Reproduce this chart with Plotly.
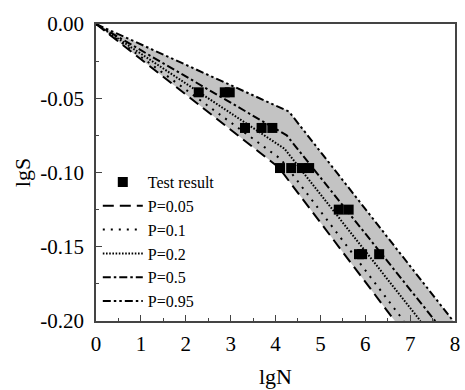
import plotly.graph_objects as go

# Test result data (lgN, lgS)
test_lgN = [2.29, 2.87, 2.98, 3.32, 3.69, 3.93, 4.10, 4.35, 4.59, 4.75, 5.41, 5.63, 5.86, 5.93, 6.31]
test_lgS = [-0.046, -0.046, -0.046, -0.070, -0.070, -0.070, -0.097, -0.097, -0.097, -0.097,
            -0.125, -0.125, -0.155, -0.155, -0.155]

# Probability P-S-N curves (bilinear in lg-lg)
p005_lgN = [0.0, 4.07, 6.66]
p005_lgS = [0.0, -0.0965, -0.20]
p01_lgN = [0.0, 4.12, 6.86]
p01_lgS = [0.0, -0.091, -0.20]
p02_lgN = [0.0, 4.20, 7.23]
p02_lgS = [0.0, -0.084, -0.20]
p05_lgN = [0.0, 4.25, 7.56]
p05_lgS = [0.0, -0.075, -0.20]
p095_lgN = [0.0, 4.30, 7.96]
p095_lgS = [0.0, -0.059, -0.20]

x_ticks = [0, 1, 2, 3, 4, 5, 6, 7, 8]
y_ticks = [0.0, -0.05, -0.10, -0.15, -0.20]
y_ticktext = ["0.00", "-0.05", "-0.10", "-0.15", "-0.20"]

FONT = "Liberation Serif"

fig = go.Figure()

# shaded band between P=0.05 and P=0.95
band_x = p095_lgN + p005_lgN[::-1]
band_y = p095_lgS + p005_lgS[::-1]
fig.add_trace(go.Scatter(x=band_x, y=band_y, fill="toself", mode="lines",
                         fillcolor="#c3c3c3", line=dict(width=0),
                         showlegend=False, hoverinfo="skip"))

lines = [
    ("P=0.05", p005_lgN, p005_lgS, "11px,6px"),
    ("P=0.1", p01_lgN, p01_lgS, "2px,6px"),
    ("P=0.2", p02_lgN, p02_lgS, "1.6px,1.6px"),
    ("P=0.5", p05_lgN, p05_lgS, "8px,3px,2.5px,3px"),
    ("P=0.95", p095_lgN, p095_lgS, "8px,3px,2.5px,3px,2.5px,3px"),
]
for i, (name, xs, ys, dash) in enumerate(lines):
    fig.add_trace(go.Scatter(x=xs, y=ys, mode="lines", name=name,
                             line=dict(color="black", width=2, dash=dash),
                             legendrank=10 + i))

fig.add_trace(go.Scatter(x=test_lgN, y=test_lgS, mode="markers", name="Test result",
                         marker=dict(symbol="square", size=10, color="black"),
                         legendrank=1))

tickfont = dict(family=FONT, size=21, color="black")
axis_common = dict(showgrid=False, zeroline=False, showline=True, mirror=True,
                   linecolor="#444444", linewidth=1.5, ticks="inside", ticklen=6,
                   tickwidth=1, tickcolor="#444444")

fig.update_xaxes(range=[0, 8], tickvals=x_ticks, ticklabelstandoff=3, tickfont=tickfont,
                 minor=dict(ticks="inside", ticklen=3, dtick=0.5, tickcolor="#444444"),
                 title=dict(text="lgN", font=dict(family=FONT, size=22, color="black"), standoff=14),
                 **axis_common)
fig.update_yaxes(range=[-0.2, 0], tickvals=y_ticks, ticktext=y_ticktext, ticklabelstandoff=6,
                 tickfont=tickfont,
                 minor=dict(ticks="inside", ticklen=3, dtick=0.025, tickcolor="#444444"),
                 title=dict(text="lgS", font=dict(family=FONT, size=22, color="black"), standoff=4),
                 **axis_common)

fig.update_layout(
    width=465, height=390,
    margin=dict(l=96, r=5, t=24, b=68),
    plot_bgcolor="white", paper_bgcolor="white",
    font=dict(family=FONT, color="black"),
    legend=dict(x=0.005, y=0.525, xanchor="left", yanchor="top",
                bgcolor="rgba(0,0,0,0)", font=dict(family=FONT, size=16, color="black"),
                itemwidth=40, tracegroupgap=0),
)

fig.write_html("out.html")
